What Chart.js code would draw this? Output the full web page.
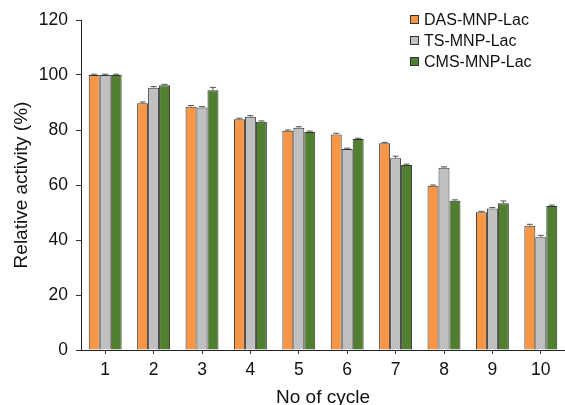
<!DOCTYPE html>
<html>
<head>
<meta charset="utf-8">
<script src="https://cdn.jsdelivr.net/npm/chart.js@4/dist/chart.umd.min.js"></script>
<style>
  html, body { margin: 0; padding: 0; background: #fff; }
  #wrap { width: 565px; height: 405px; position: relative; }
</style>
</head>
<body>
<div id="wrap"><canvas id="c" width="565" height="405"></canvas></div>
<script>
const cycles = ['1', '2', '3', '4', '5', '6', '7', '8', '9', '10'];
const seriesNames = ['DAS-MNP-Lac', 'TS-MNP-Lac', 'CMS-MNP-Lac'];
const dasValues = [100, 89.7, 88.5, 83.9, 79.7, 78.4, 75.2, 59.7, 50.1, 45.2];
const tsValues  = [100, 95.4, 88.2, 84.8, 80.8, 73.1, 69.7, 66.3, 51.5, 41.0];
const cmsValues = [100, 96.3, 94.5, 83.0, 79.3, 76.7, 67.3, 54.3, 53.4, 52.4];
const dasErrors = [0.3, 0.5, 0.4, 0.4, 0.3, 0.4, 0.3, 0.3, 0.3, 0.5];
const tsErrors  = [0.3, 0.4, 0.3, 0.4, 0.4, 0.3, 0.8, 0.3, 0.3, 0.7];
const cmsErrors = [0.3, 0.3, 1.0, 0.3, 0.3, 0.3, 0.3, 0.3, 0.8, 0.3];
const yTicks = [0, 20, 40, 60, 80, 100, 120];

const colors = ['#F79646', '#C0C0C0', '#4F7F2F'];
const FONT = "'Liberation Sans', Arial, sans-serif";

const errorBars = {
  id: 'errorBars',
  afterDatasetsDraw(chart) {
    const ctx = chart.ctx;
    const y = chart.scales.y;
    ctx.save();
    ctx.strokeStyle = '#555';
    ctx.lineWidth = 1;
    chart.data.datasets.forEach((ds, di) => {
      const meta = chart.getDatasetMeta(di);
      meta.data.forEach((bar, i) => {
        const v = ds.data[i];
        const e = ds.errors[i];
        const yTop = y.getPixelForValue(v + e);
        const yVal = y.getPixelForValue(v);
        const x = bar.x;
        ctx.beginPath();
        ctx.moveTo(x, yVal);
        ctx.lineTo(x, yTop);
        ctx.moveTo(x - 3, yTop);
        ctx.lineTo(x + 3, yTop);
        ctx.stroke();
      });
    });
    ctx.restore();
  }
};

const boxLegend = {
  id: 'boxLegend',
  afterDraw(chart) {
    const ctx = chart.ctx;
    ctx.save();
    ctx.font = '16px ' + FONT;
    ctx.textBaseline = 'middle';
    ctx.textAlign = 'left';
    chart.data.datasets.forEach((ds, i) => {
      const cy = 20 + i * 21;
      ctx.fillStyle = ds.backgroundColor;
      ctx.fillRect(410.5, cy - 4.5, 8, 8);
      ctx.strokeStyle = '#333';
      ctx.lineWidth = 1;
      ctx.strokeRect(410.5, cy - 4.5, 8, 8);
      ctx.fillStyle = '#111';
      ctx.fillText(ds.label, 424, cy + 1);
    });
    ctx.restore();
  }
};

const mk = (label, data, errors, color) => ({
  label, data, errors,
  backgroundColor: color,
  borderColor: '#333',
  borderWidth: 1,
  borderSkipped: 'bottom',
  categoryPercentage: 0.68,
  barPercentage: 1.0
});

new Chart(document.getElementById('c'), {
  type: 'bar',
  data: {
    labels: cycles,
    datasets: [
      mk(seriesNames[0], dasValues, dasErrors, colors[0]),
      mk(seriesNames[1], tsValues, tsErrors, colors[1]),
      mk(seriesNames[2], cmsValues, cmsErrors, colors[2])
    ]
  },
  options: {
    responsive: false,
    animation: false,
    layout: { padding: { top: 20, right: -1, bottom: -4, left: 0 } },
    plugins: { legend: { display: false }, tooltip: { enabled: false } },
    scales: {
      x: {
        grid: { display: true, drawOnChartArea: false, drawTicks: true, tickLength: 4, offset: false, color: '#333' },
        border: { display: true, color: '#222', width: 1 },
        ticks: { color: '#111', font: { family: FONT, size: 17.5 }, padding: 6, maxRotation: 0 },
        title: { display: true, text: 'No of cycle', color: '#111', font: { family: FONT, size: 19 }, padding: { top: 0, bottom: 0 } },
        afterFit(s) { s.height = 59; }
      },
      y: {
        min: 0, max: 120,
        afterBuildTicks(s) { s.ticks = yTicks.map(v => ({ value: v })); },
        grid: { display: true, drawOnChartArea: false, drawTicks: true, tickLength: 5, color: '#333' },
        border: { display: true, color: '#222', width: 1 },
        ticks: { color: '#111', font: { family: FONT, size: 17.5 }, padding: 8 },
        title: { display: true, text: 'Relative activity (%)', color: '#111', font: { family: FONT, size: 19 }, padding: { top: 10, bottom: 0 } },
        afterFit(s) { s.width = 81; }
      }
    }
  },
  plugins: [errorBars, boxLegend]
});
</script>
</body>
</html>
